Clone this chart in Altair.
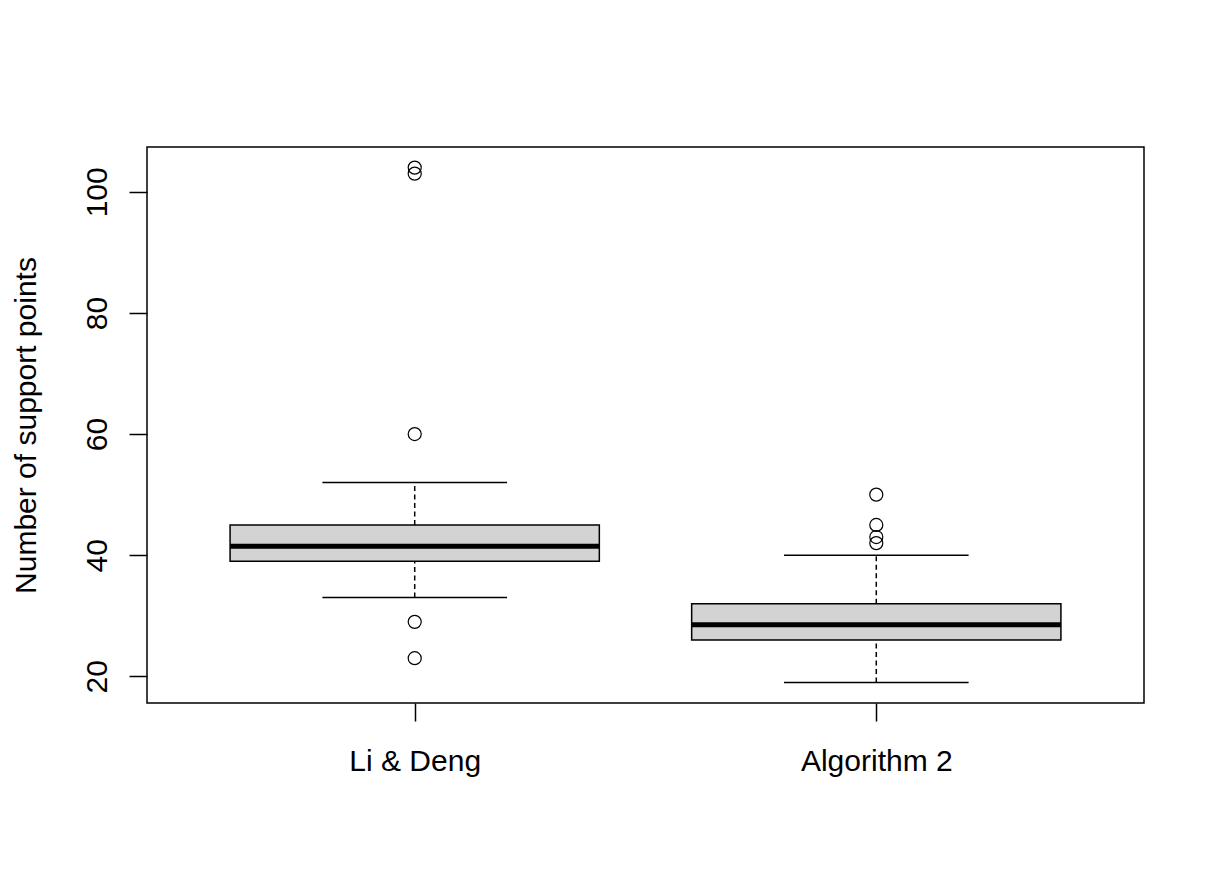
import altair as alt
import pandas as pd

# ---- data ----
groups = ["Li & Deng", "Algorithm 2"]
positions = [1, 2]
lower_whisker = [33, 19]
q1 = [39, 26]
median = [41.5, 28.5]
q3 = [45, 32]
upper_whisker = [52, 40]

outlier_group = ["Li & Deng"] * 5 + ["Algorithm 2"] * 4
outlier_pos = [1] * 5 + [2] * 4
outlier_value = [23, 29, 60, 103, 104, 42, 43, 45, 50]

y_ticks = [20, 40, 60, 80, 100]

stats = pd.DataFrame({
    "group": groups, "pos": positions, "lo": lower_whisker, "q1": q1,
    "med": median, "q3": q3, "hi": upper_whisker,
})
outl = pd.DataFrame({"group": outlier_group, "pos": outlier_pos, "value": outlier_value})

FONT = "Liberation Sans"
xscale = alt.Scale(domain=[0.42, 2.58], nice=False, zero=False)
yscale = alt.Scale(domain=[15.6, 107.4], nice=False, zero=False)

xaxis = alt.Axis(values=positions, labelExpr="datum.value == 1 ? 'Li & Deng' : 'Algorithm 2'",
                 title=None, domain=False, grid=False, tickSize=18, tickColor="black",
                 tickWidth=1.5, labelFont=FONT, labelFontSize=30, labelColor="black",
                 labelPadding=49, labelBaseline="alphabetic", labelFlush=False,
                 labelOverlap=False)
yaxis = alt.Axis(values=y_ticks, title="Number of support points", domain=False, grid=False,
                 tickSize=18, tickColor="black", tickWidth=1.5, labelFont=FONT,
                 labelFontSize=30, labelColor="black", labelAngle=270, labelAlign="center",
                 labelBaseline="alphabetic", labelPadding=23, titleFont=FONT,
                 titleFontSize=30, titleFontWeight="normal", titleColor="black",
                 titleAngle=270, titleAlign="center", titleBaseline="alphabetic",
                 titleX=-112, titleY=278)

base = alt.Chart(stats)

whisk_up = base.mark_rule(color="black", strokeWidth=1.5, strokeDash=[5, 3.5]).encode(
    x=alt.X("pos:Q", scale=xscale, axis=xaxis),
    y=alt.Y("q3:Q", scale=yscale, axis=yaxis),
    y2="hi:Q",
)
whisk_dn = base.mark_rule(color="black", strokeWidth=1.5, strokeDash=[5, 3.5]).encode(
    x=alt.X("pos:Q", scale=xscale), y=alt.Y("lo:Q", scale=yscale), y2="q1:Q",
)
caps = base.transform_calculate(a="datum.pos - 0.2", b="datum.pos + 0.2")
cap_hi = caps.mark_rule(color="black", strokeWidth=1.5).encode(
    x=alt.X("a:Q", scale=xscale), x2="b:Q", y=alt.Y("hi:Q", scale=yscale))
cap_lo = caps.mark_rule(color="black", strokeWidth=1.5).encode(
    x=alt.X("a:Q", scale=xscale), x2="b:Q", y=alt.Y("lo:Q", scale=yscale))

boxes = base.transform_calculate(a="datum.pos - 0.4", b="datum.pos + 0.4")
box = boxes.mark_rect(fill="#D3D3D3", stroke="black", strokeWidth=1.5).encode(
    x=alt.X("a:Q", scale=xscale), x2="b:Q", y=alt.Y("q1:Q", scale=yscale), y2="q3:Q")
med = boxes.mark_rule(color="black", strokeWidth=5).encode(
    x=alt.X("a:Q", scale=xscale), x2="b:Q", y=alt.Y("med:Q", scale=yscale))

pts = alt.Chart(outl).mark_point(shape="circle", filled=False, color="black",
                                 strokeWidth=1.2, size=170, opacity=1).encode(
    x=alt.X("pos:Q", scale=xscale), y=alt.Y("value:Q", scale=yscale))

chart = alt.layer(whisk_up, whisk_dn, cap_hi, cap_lo, box, med, pts).properties(
    width=997, height=556,
    autosize=alt.AutoSizeParams(type="none"),
    padding={"left": 139, "top": 139, "right": 68, "bottom": 177},
    background="white",
).configure_view(stroke="black", strokeWidth=1.5)

chart.save("out.html", embed_options={"renderer": "svg", "actions": False})
